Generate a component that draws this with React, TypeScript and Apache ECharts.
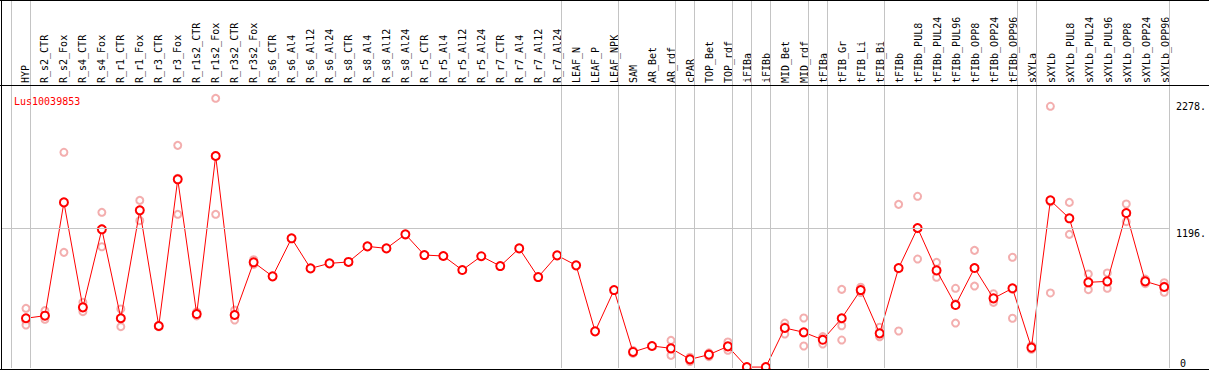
import React, { useEffect, useRef } from "react";
import * as echarts from "echarts";

const categories = [
  "HYP", "R_s2_CTR", "R_s2_Fox", "R_s4_CTR", "R_s4_Fox", "R_r1_CTR", "R_r1_Fox", "R_r3_CTR", "R_r3_Fox",
  "R_r1s2_CTR", "R_r1s2_Fox", "R_r3s2_CTR", "R_r3s2_Fox", "R_s6_CTR", "R_s6_Al4", "R_s6_Al12", "R_s6_Al24",
  "R_s8_CTR", "R_s8_Al4", "R_s8_Al12", "R_s8_Al24", "R_r5_CTR", "R_r5_Al4", "R_r5_Al12", "R_r5_Al24",
  "R_r7_CTR", "R_r7_Al4", "R_r7_Al12", "R_r7_Al24", "LEAF_N", "LEAF_P", "LEAF_NPK", "SAM", "AR_Bet", "AR_rdf",
  "cPAR", "TOP_Bet", "TOP_rdf", "iFIBa", "iFIBb", "MID_Bet", "MID_rdf", "tFIBa", "tFIB_Gr", "tFIB_Li", "tFIB_Bi",
  "tFIBb", "tFIBb_PUL8", "tFIBb_PUL24", "tFIBb_PUL96", "tFIBb_OPP8", "tFIBb_OPP24", "tFIBb_OPP96",
  "sXYLa", "sXYLb", "sXYLb_PUL8", "sXYLb_PUL24", "sXYLb_PUL96", "sXYLb_OPP8", "sXYLb_OPP24", "sXYLb_OPP96",
];

const means = [
  425, 447, 1415, 518, 1185, 425, 1347, 359, 1612, 461, 1811, 453, 903, 783, 1108, 851, 894, 906, 1039, 1022,
  1142, 965, 957, 837, 955, 871, 1022, 777, 962, 877, 313, 666, 137, 188, 168, 74, 114, 185, 8, 8,
  342, 305, 241, 425, 666, 296, 854, 1196, 834, 538, 854, 595, 681, 174, 1432, 1279, 732, 740, 1324, 740, 692,
];

const rep1 = [
  510, 490, 1843, 561, 1330, 504, 1432, 365, 1902, 480, 2304, 495, 925, null, null, null, null, null, null, null,
  null, null, null, null, null, null, null, null, null, null, null, null, 150, null, 236, 92, 130, 222, null, null,
  384, 427, 268, 672, 690, 348, 1398, 1467, 903, 681, 1005, 635, 946, 190, 2236, 1415, 803, 812, 1401, 760, 729,
];
const rep2 = [
  400, 445, 1414, 515, 1189, 418, 1350, 358, 1621, 461, 1816, 454, 900, null, null, null, null, null, null, null,
  null, null, null, null, null, null, null, null, null, null, null, null, 137, null, 160, 74, 114, 182, null, null,
  352, 300, 250, 361, 666, 275, 848, 1190, 824, 549, 857, 590, 672, 174, 1419, 1280, 725, 728, 1321, 740, 700,
];
const rep3 = [
  367, 416, 988, 481, 1036, 353, 1259, 352, 1313, 445, 1313, 410, 885, null, null, null, null, null, null, null,
  null, null, null, null, null, null, null, null, null, null, null, null, 125, null, 108, 55, 97, 151, null, null,
  290, 188, 205, 239, 645, 267, 316, 931, 775, 384, 700, 561, 425, 160, 641, 1142, 669, 681, 1250, 720, 647,
];

// indices of the last category of each group (a separator is drawn just after it)
const groupEnds = [-1, 0, 28, 31, 34, 35, 37, 38, 39, 41, 42, 45, 52, 53, 60];
const yLabelValues = [1196, 2278];
const yZeroLabel = [0];
const refLines = [1196];
const geneName = "Lus10039853";

const MONO = "'DejaVu Sans Mono', monospace";

export default function App() {
  const ref = useRef<HTMLDivElement>(null);

  useEffect(() => {
    if (!ref.current) return;
    const chart = echarts.init(ref.current, null, { renderer: "svg" });

    const repData: [number, number][] = [];
    [rep1, rep2, rep3].forEach((arr) =>
      arr.forEach((v, i) => {
        if (v != null) repData.push([i, v as number]);
      })
    );
    const meanData = means.map((v, i) => [i, v]);

    const yMax = 3144;

    chart.setOption({
      animation: false,
      title: {
        text: geneName,
        left: 9,
        top: 91,
        textStyle: { color: "#ff0000", fontSize: 10, fontWeight: "normal", fontFamily: MONO },
      },
      grid: [
        { left: 1.5, right: 38.3, top: 0, bottom: 2 },
        { left: 16, width: 19 * categories.length, top: 86, bottom: 2 },
      ],
      xAxis: [
        {
          type: "value",
          gridIndex: 0,
          min: -1.29,
          max: 60.247,
          show: false,
        },
        {
          type: "category",
          gridIndex: 1,
          position: "top",
          data: categories,
          boundaryGap: true,
          axisLine: { show: false },
          axisTick: { show: false },
          splitLine: { show: false },
          axisLabel: {
            interval: 0,
            rotate: 90,
            margin: 3,
            fontSize: 10,
            fontFamily: MONO,
            color: "#000",
          },
        },
      ],
      yAxis: [
        {
          type: "value",
          gridIndex: 0,
          min: 0,
          max: yMax,
          position: "right",
          axisLine: { show: false },
          axisTick: { show: false },
          splitLine: { show: false },
          axisLabel: {
            customValues: yLabelValues,
            formatter: (v: number) => v + ".",
            verticalAlign: "top",
            margin: 7,
            fontSize: 10,
            fontFamily: MONO,
            color: "#000",
          },
        },
        {
          type: "value",
          gridIndex: 0,
          min: 0,
          max: yMax,
          position: "right",
          axisLine: { show: false },
          axisTick: { show: false },
          splitLine: { show: false },
          axisLabel: {
            customValues: yZeroLabel,
            verticalAlign: "bottom",
            margin: 11,
            fontSize: 10,
            fontFamily: MONO,
            color: "#000",
          },
        },
        { type: "value", gridIndex: 1, show: false },
      ],
      series: [
        {
          type: "line",
          xAxisIndex: 0,
          yAxisIndex: 0,
          data: [],
          silent: true,
          markLine: {
            silent: true,
            symbol: "none",
            label: { show: false },
            lineStyle: { color: "#c4c4c4", width: 1, type: "solid" },
            data: [
              ...groupEnds.map((g) => ({ xAxis: g + 0.24 })),
              ...refLines.map((v) => ({ yAxis: v })),
            ],
          },
        },
        {
          type: "scatter",
          xAxisIndex: 0,
          yAxisIndex: 0,
          data: repData,
          symbol: "emptyCircle",
          symbolSize: 7,
          itemStyle: { color: "#f09a9a", borderColor: "#f09a9a", borderWidth: 1.3 },
          clip: false,
        },
        {
          type: "line",
          xAxisIndex: 0,
          yAxisIndex: 0,
          data: meanData,
          symbol: "emptyCircle",
          symbolSize: 8,
          lineStyle: { color: "#ff0000", width: 1 },
          itemStyle: { color: "#ff0000", borderColor: "#ff0000", borderWidth: 1.3 },
          clip: false,
        },
      ],
      graphic: [
        { type: "line", z: 100, shape: { x1: 0, y1: 0.5, x2: 1209, y2: 0.5 }, style: { stroke: "#000", lineWidth: 1 } },
        { type: "line", z: 100, shape: { x1: 0, y1: 85.5, x2: 1209, y2: 85.5 }, style: { stroke: "#000", lineWidth: 1 } },
        { type: "line", z: 100, shape: { x1: 1.5, y1: 0, x2: 1.5, y2: 370 }, style: { stroke: "#000", lineWidth: 1 } },
        { type: "line", z: 100, shape: { x1: 0, y1: 369.5, x2: 1209, y2: 369.5 }, style: { stroke: "#000", lineWidth: 1 } },
      ],
    });

    return () => chart.dispose();
  }, []);

  return (
    <div
      ref={ref}
      style={{ position: "fixed", left: 0, top: 0, width: 1209, height: 370, background: "#fff" }}
    />
  );
}
